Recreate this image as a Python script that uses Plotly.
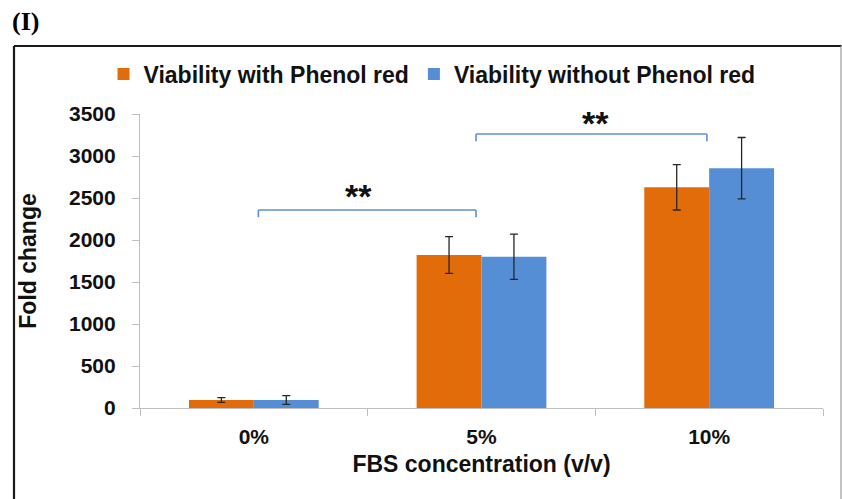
import plotly.graph_objects as go

categories = ["0%", "5%", "10%"]
with_phenol = [95, 1821, 2627]
with_phenol_err = [28, 218, 270]
without_phenol = [95, 1801, 2855]
without_phenol_err = [52, 270, 365]
series_names = ["Viability with Phenol red", "Viability without Phenol red"]
y_ticks = [0, 500, 1000, 1500, 2000, 2500, 3000, 3500]

# significance brackets: (start category index, end category index, y level)
brackets = [(0.02, 0.976, 2357), (0.976, 1.99, 3262)]
bracket_drop = 85
star_labels = ["**", "**"]
star_pos = [(0.46, 2520), (1.5, 3390)]

ORANGE = "#E36C0A"
BLUE = "#558ED5"
FONT = "Liberation Sans, Arial, sans-serif"

W, H = 842, 499
ML, MR, MT, MB = 140, 19, 114, 91
pw = W - ML - MR
ph = H - MT - MB

def px_x(p):
    return (p - ML) / pw

def px_y(p):
    return (H - MB - p) / ph

fig = go.Figure()
fig.add_trace(go.Bar(
    x=categories, y=with_phenol, name=series_names[0],
    marker=dict(color=ORANGE, line=dict(width=0)),
    error_y=dict(type="data", array=with_phenol_err, color="#262626", thickness=1.3, width=4),
))
fig.add_trace(go.Bar(
    x=categories, y=without_phenol, name=series_names[1],
    marker=dict(color=BLUE, line=dict(width=0)),
    error_y=dict(type="data", array=without_phenol_err, color="#262626", thickness=1.3, width=4),
))

shapes = []
for x0, x1, yl in brackets:
    for (a, b, c, d) in [(x0, yl - bracket_drop, x0, yl), (x0, yl, x1, yl), (x1, yl, x1, yl - bracket_drop)]:
        shapes.append(dict(type="line", xref="x", yref="y", x0=a, y0=b, x1=c, y1=d,
                           line=dict(color="#5B8FD6", width=1.6)))

# outer frame
shapes.append(dict(type="line", xref="paper", yref="paper", x0=px_x(14), x1=px_x(841.5), y0=px_y(46), y1=px_y(46),
                   line=dict(color="#1a1a1a", width=2.2)))
shapes.append(dict(type="line", xref="paper", yref="paper", x0=px_x(14), x1=px_x(14), y0=px_y(46), y1=px_y(520),
                   line=dict(color="#1a1a1a", width=2.2)))
shapes.append(dict(type="line", xref="paper", yref="paper", x0=px_x(841), x1=px_x(841), y0=px_y(46), y1=px_y(520),
                   line=dict(color="#9a9a9a", width=1.2)))

annotations = []
for lab, (sx, sy) in zip(star_labels, star_pos):
    annotations.append(dict(x=sx, y=sy, xref="x", yref="y", text=lab, showarrow=False,
                            font=dict(family=FONT, size=34, color="#111111", weight="bold"),
                            xanchor="center", yanchor="middle"))
annotations.append(dict(x=px_x(10), y=px_y(21), xref="paper", yref="paper", text="(I)", showarrow=False,
                        font=dict(family="Liberation Serif, Times New Roman, serif", size=26, color="#000000", weight="bold"),
                        xanchor="left", yanchor="middle"))

fig.update_layout(
    width=W, height=H,
    margin=dict(l=ML, r=MR, t=MT, b=MB, autoexpand=False),
    paper_bgcolor="white", plot_bgcolor="white",
    barmode="group", bargap=0.43, bargroupgap=0,
    font=dict(family=FONT, color="#000000"),
    shapes=shapes, annotations=annotations,
    showlegend=True,
    legend=dict(orientation="h", x=px_x(432), xanchor="center", y=px_y(74), yanchor="middle",
                font=dict(family=FONT, size=23, color="#111111", weight="bold"),
                itemwidth=30, bgcolor="rgba(0,0,0,0)"),
)
fig.update_xaxes(
    type="category", showgrid=False, showline=True, linecolor="#BFBFBF", linewidth=1.2,
    ticks="outside", tickson="boundaries", ticklen=7, tickcolor="#BFBFBF",
    tickfont=dict(family=FONT, size=21, color="#111111", weight="bold"), ticklabelstandoff=10,
    title=dict(text="FBS concentration (v/v)", font=dict(family=FONT, size=23, color="#111111", weight="bold"), standoff=8),
    range=[-0.5, 2.5],
)
fig.update_yaxes(
    range=[0, 3500], tickvals=y_ticks, showgrid=False, showline=True, linecolor="#BFBFBF", linewidth=1.2,
    ticks="outside", ticklen=7, tickcolor="#BFBFBF", zeroline=False,
    tickfont=dict(family=FONT, size=21, color="#111111", weight="bold"), ticklabelstandoff=12,
    title=dict(text="Fold change", font=dict(family=FONT, size=23, color="#111111", weight="bold"), standoff=25),
)

fig.write_html("out.html")
